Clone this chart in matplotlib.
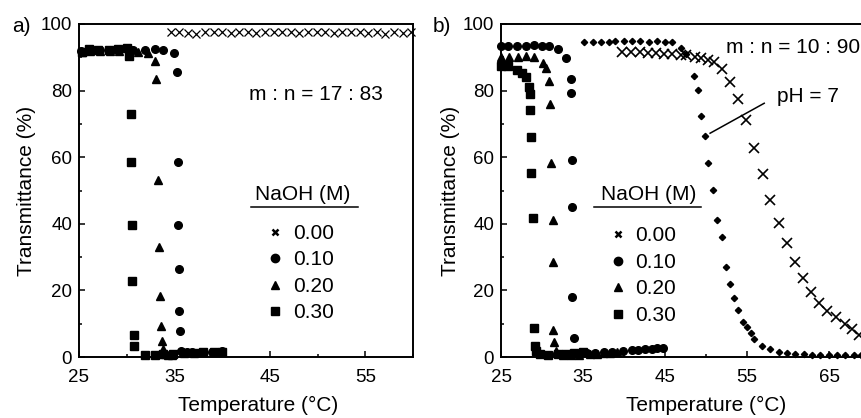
import matplotlib.pyplot as plt
from matplotlib.lines import Line2D

plt.rcParams['font.family'] = ['Liberation Sans', 'DejaVu Sans']

# ---- panel a) m : n = 17 : 83 ----
a_x00 = [34.6, 35.5, 36.4, 37.3, 38.2, 39.1, 40.0, 40.9, 41.8, 42.7, 43.6, 44.5, 45.4, 46.3, 47.2,
         48.1, 49.0, 49.9, 50.8, 51.7, 52.6, 53.5, 54.4, 55.3, 56.2, 57.1, 58.0, 58.9, 59.8]
a_y00 = [97.5, 97.6, 97.4, 97.1, 97.5, 97.6, 97.5, 97.4, 97.6, 97.5, 97.4, 97.6, 97.5, 97.5, 97.6,
         97.4, 97.5, 97.6, 97.5, 97.4, 97.5, 97.6, 97.5, 97.4, 97.6, 97.1, 97.5, 97.4, 97.5]
a_x10 = [25.2, 26.2, 27.2, 28.2, 29.2, 30.2, 30.7, 31.9, 33.0, 33.8, 35.0, 35.3, 35.4, 35.4, 35.5,
         35.5, 35.6, 35.7, 35.8, 36.3, 36.8, 37.8, 38.9, 40.0]
a_y10 = [92.0, 92.2, 92.3, 92.3, 92.4, 92.4, 92.3, 92.3, 92.4, 92.2, 91.3, 85.6, 58.5, 39.6, 26.4,
         13.8, 7.8, 1.8, 1.6, 1.4, 1.4, 1.5, 1.6, 1.7]
a_x20 = [25.3, 26.2, 27.2, 28.2, 29.2, 30.2, 31.2, 32.2, 33.0, 33.1, 33.3, 33.4, 33.5, 33.6, 33.7,
         33.8, 34.0, 34.3, 34.7]
a_y20 = [91.5, 91.8, 91.8, 92.0, 92.0, 91.8, 91.5, 91.2, 88.9, 83.5, 53.1, 33.0, 18.3, 9.3, 4.8,
         2.4, 1.0, 0.6, 0.5]
a_x30 = [25.3, 26.0, 27.0, 28.1, 29.1, 30.0, 30.2, 30.4, 30.4, 30.6, 30.6, 30.8, 30.8, 31.9, 33.0,
         33.8, 34.9, 36.0, 37.0, 38.0, 39.1, 40.0]
a_y30 = [91.5, 92.5, 92.3, 92.3, 92.6, 92.8, 90.4, 73.0, 58.5, 39.6, 22.8, 6.6, 3.3, 0.6, 0.6,
         0.9, 1.0, 1.2, 1.2, 1.4, 1.5, 1.6]

# ---- panel b) m : n = 10 : 90 ----
b_x00 = [39.8, 40.9, 41.9, 42.9, 43.9, 44.9, 45.9, 47.0, 47.6, 48.6, 49.4, 50.2, 51.0, 52.0, 52.9,
         53.9, 54.9, 55.9, 56.9, 57.8, 58.9, 59.9, 60.9, 61.8, 62.8, 63.8, 64.8, 65.9, 66.9, 67.8,
         68.7]
b_y00 = [91.7, 91.6, 91.5, 91.4, 91.3, 91.1, 91.0, 90.8, 90.7, 90.0, 89.8, 89.2, 88.5, 86.5, 82.7,
         77.4, 71.2, 62.9, 55.0, 47.1, 40.1, 34.1, 28.4, 23.6, 19.6, 16.1, 13.9, 11.9, 9.9, 8.4,
         6.7]
b_x10 = [25.0, 25.9, 27.0, 28.0, 29.0, 30.0, 30.9, 32.0, 32.9, 33.5, 33.5, 33.7, 33.7, 33.7, 33.9,
         34.5, 35.5, 36.5, 37.5, 38.5, 39.9, 41.0, 41.7, 42.6, 43.4, 44.0, 44.8]
b_y10 = [93.5, 93.5, 93.5, 93.5, 93.8, 93.5, 93.5, 92.5, 89.8, 83.5, 79.4, 59.2, 45.1, 17.9, 5.6,
         1.0, 1.2, 1.3, 1.4, 1.6, 1.9, 2.1, 2.2, 2.4, 2.5, 2.6, 2.8]
b_x20 = [25.0, 26.0, 27.1, 28.0, 29.0, 30.1, 30.5, 30.9, 31.0, 31.1, 31.3, 31.3, 31.4, 31.5, 31.7,
         32.5, 33.5, 34.5, 35.9, 36.7, 37.4, 38.3, 39.1]
b_y20 = [90.2, 90.2, 90.2, 90.3, 90.2, 88.2, 86.7, 82.9, 76.0, 58.4, 41.1, 28.4, 8.2, 4.6, 1.9,
         0.6, 0.6, 0.7, 0.9, 1.0, 1.1, 1.3, 1.4]
b_x30 = [25.0, 25.9, 27.0, 27.5, 28.0, 28.4, 28.5, 28.5, 28.6, 28.6, 28.9, 29.0, 29.1, 29.3, 29.7,
         30.7, 31.9, 32.9, 33.9, 35.0]
b_y30 = [87.5, 87.5, 86.3, 85.4, 84.0, 81.0, 78.9, 74.2, 66.2, 55.4, 41.8, 8.7, 3.2, 1.9, 0.8,
         0.6, 0.8, 0.9, 1.1, 1.4]
# pH = 7 series
b_xph = [35.1, 36.2, 37.2, 38.2, 38.9, 40.0, 41.0, 42.0, 43.0, 44.0, 45.0, 45.9, 46.9, 47.6, 48.5,
         49.0, 49.4, 49.9, 50.3, 50.8, 51.3, 51.9, 52.4, 52.9, 53.4, 53.9, 54.5, 55.0, 55.5, 55.9,
         56.8, 57.8, 58.9, 59.9, 60.9, 61.9, 62.9, 63.9, 65.0, 66.0, 67.0, 68.0, 68.9]
b_yph = [94.7, 94.7, 94.7, 94.7, 95.0, 94.9, 94.8, 94.8, 94.7, 94.8, 94.7, 94.5, 92.9, 90.9, 84.4,
         80.2, 72.4, 66.5, 58.2, 50.3, 41.1, 36.0, 26.9, 21.8, 17.6, 14.1, 10.4, 8.9, 7.2, 5.4,
         3.4, 2.4, 1.6, 1.2, 0.9, 0.8, 0.7, 0.6, 0.6, 0.6, 0.5, 0.5, 0.5]

naoh_labels = ['0.00', '0.10', '0.20', '0.30']

fig = plt.figure(figsize=(8.62, 4.18), dpi=100)
ax1 = fig.add_axes([79 / 862, 61 / 418, 334 / 862, 333 / 418])
ax2 = fig.add_axes([501 / 862, 61 / 418, 369 / 862, 333 / 418])


def style(ax, xmax, majors):
    ax.set_xlim(25, xmax)
    ax.set_ylim(0, 100)
    ax.set_xticks(majors)
    ax.set_xticks([m + 5 for m in majors], minor=True)
    ax.set_yticks(range(0, 101, 20))
    ax.set_yticks(range(10, 100, 20), minor=True)
    ax.tick_params(which='both', direction='in', width=1.1, labelsize=13.5)
    ax.tick_params(which='major', length=4.5)
    ax.tick_params(which='minor', length=2.5)
    ax.tick_params(axis='x', pad=9)
    ax.tick_params(axis='y', pad=5)
    for s in ax.spines.values():
        s.set_linewidth(1.4)
    ax.set_xlabel('Temperature (°C)', fontsize=15)
    ax.set_ylabel('Transmittance (%)', fontsize=15)


style(ax1, 60, [25, 35, 45, 55])
style(ax2, 70, [25, 35, 45, 55, 65])

kw = dict(ls='none', color='k', clip_on=False)
ax1.plot(a_x00, a_y00, marker='x', ms=5.5, mew=0.9, **kw)
ax1.plot(a_x10, a_y10, marker='o', ms=5.5, **kw)
ax1.plot(a_x20, a_y20, marker='^', ms=5.5, **kw)
ax1.plot(a_x30, a_y30, marker='s', ms=5.5, **kw)

ax2.plot(b_x00, b_y00, marker='x', ms=6.5, mew=1.2, **kw)
ax2.plot(b_x10, b_y10, marker='o', ms=5.5, **kw)
ax2.plot(b_x20, b_y20, marker='^', ms=5.5, **kw)
ax2.plot(b_x30, b_y30, marker='s', ms=5.5, **kw)
ax2.plot(b_xph, b_yph, marker='D', ms=3.2, **kw)

ax1.xaxis.set_label_coords(0.537, -0.117)
ax2.xaxis.set_label_coords(0.557, -0.117)
ax1.yaxis.set_label_coords(-0.128, 0.5)
ax2.yaxis.set_label_coords(-0.110, 0.5)

fig.text(12 / 862, 1 - 26 / 418, 'a)', fontsize=15, va='center')
fig.text(433 / 862, 1 - 26 / 418, 'b)', fontsize=15, va='center')

ax1.text(42.8, 77.2, 'm : n = 17 : 83', fontsize=15)
ax2.text(52.5, 91.2, 'm : n = 10 : 90', fontsize=15)
ax2.text(58.6, 76.6, 'pH = 7', fontsize=15)
ax2.plot([50.5, 57.1], [67.2, 76.2], color='k', lw=1.1)

# legends with underlined title
handles = [Line2D([], [], ls='none', color='k', marker='x', ms=5, mew=1.8),
           Line2D([], [], ls='none', color='k', marker='o', ms=6),
           Line2D([], [], ls='none', color='k', marker='^', ms=6),
           Line2D([], [], ls='none', color='k', marker='s', ms=5.5)]
for ax, tx, ty, ux0, ux1, uy, lx, ly in [(ax1, 0.669, 0.471, 0.514, 0.836, 0.451, 0.563, 0.400),
                                         (ax2, 0.400, 0.471, 0.252, 0.542, 0.450, 0.294, 0.392)]:
    ax.text(tx, ty, 'NaOH (M)', fontsize=15, ha='center', va='baseline', transform=ax.transAxes)
    ax.plot([ux0, ux1], [uy, uy], color='k', lw=1.1, transform=ax.transAxes, clip_on=False)
    ax.legend(handles, naoh_labels, loc='upper left', bbox_to_anchor=(lx, ly), frameon=False,
              fontsize=15, handlelength=0.8, handletextpad=0.45, labelspacing=0.36,
              borderpad=0, borderaxespad=0)

plt.savefig('out.png', dpi=100)
